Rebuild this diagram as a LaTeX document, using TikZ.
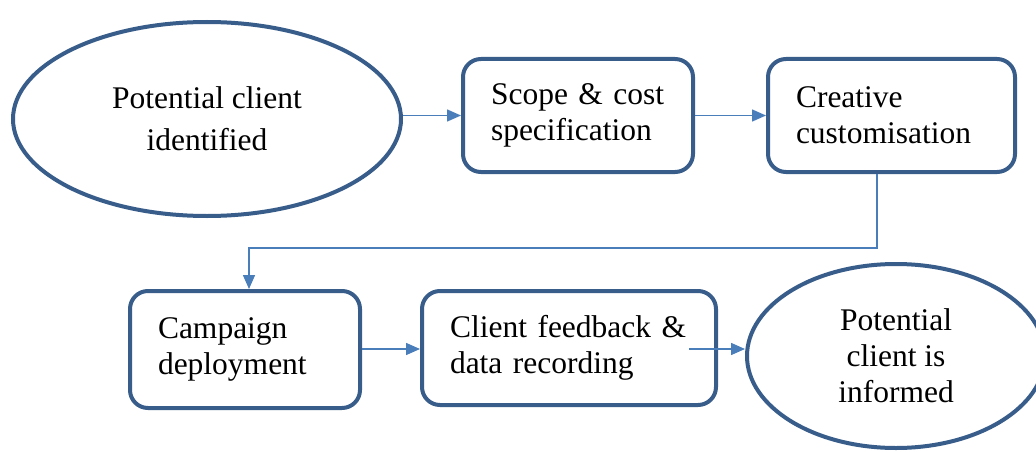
\documentclass[tikz,border=0pt]{standalone}
\usepackage{fontspec}
\setmainfont{Liberation Serif}
\usetikzlibrary{shapes.geometric,arrows.meta}
\definecolor{edgeblue}{HTML}{385D8A}
\definecolor{flowblue}{HTML}{4A7EBB}
\tikzset{
	procbox/.style={draw=edgeblue,line width=4pt,rounded corners=18pt,fill=white,
		inner xsep=28pt,align=left,font=\fontsize{31.5}{36}\selectfont},
	termell/.style={ellipse,draw=edgeblue,line width=4pt,fill=white,inner sep=0pt,
		align=center,font=\fontsize{31.5}{36}\selectfont},
	flowarr/.style={draw=flowblue,line width=1.5pt,-{Triangle[length=14pt,width=12pt]}}
}
\begin{document}
\begin{tikzpicture}[x=1pt,y=-1pt]
	\useasboundingbox (0,0) rectangle (1036,452);
	\node[termell,minimum width=388pt,minimum height=194pt,
		font=\fontsize{31.5}{42}\selectfont] (ident) at (207,119) {Potential client\\identified};
	\node[procbox,minimum width=230pt,minimum height=113pt,text width=174pt] (scope) at (578,115.5) {Scope \& cost\\specification};
	\node[procbox,minimum width=247pt,minimum height=113pt,text width=191pt] (creat) at (891.5,115.5) {Creative\\customisation};
	\node[procbox,minimum width=230pt,minimum height=117pt,text width=174pt] (camp) at (245,349.5) {Campaign\\deployment};
	\node[procbox,minimum width=294pt,minimum height=114pt,text width=238pt] (feed) at (569,348) {Client feedback \&\\data recording};
	\node[termell,minimum width=298pt,minimum height=184pt] (info) at (896,356) {Potential\\client is\\informed};
	% connectors
	\coordinate (turn) at (877,248);
	\coordinate (fbout) at (689,349);
	\draw[flowarr] (ident.east |- scope.west) -- (scope.west);
	\draw[flowarr] (scope.east) -- (creat.west);
	\draw[flowarr] (creat.south -| turn) -- (turn) -| ([xshift=4pt]camp.north);
	\draw[flowarr] (camp.east |- fbout) -- (feed.west |- fbout);
	\draw[flowarr] (fbout) -- (fbout -| info.west);
\end{tikzpicture}
\end{document}
